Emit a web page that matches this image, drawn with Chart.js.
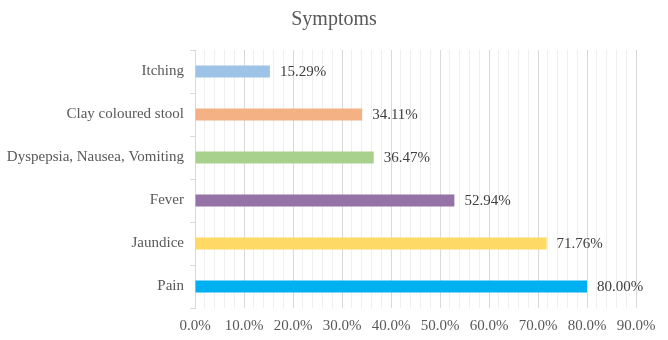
<!DOCTYPE html>
<html>
<head>
<meta charset="utf-8">
<script src="https://cdn.jsdelivr.net/npm/chart.js@4"></script>
<style>
  html, body { margin: 0; padding: 0; background: #fff; }
  #wrap { width: 668px; height: 340px; }
</style>
</head>
<body>
<div id="wrap"><canvas id="myChart"></canvas></div>
<script>
// symptoms, top row first
const symptoms = ["Itching", "Clay coloured stool", "Dyspepsia, Nausea, Vomiting", "Fever", "Jaundice", "Pain"];
const percentages = [15.29, 34.11, 36.47, 52.94, 71.76, 80.00];
const barColors = ["#9dc3e6", "#f4b183", "#a9d18e", "#9673a6", "#ffd966", "#00b0f0"];
const axisMax = 90;

const serif = "'Liberation Serif', 'Times New Roman', serif";

// value labels at the end of each bar
const barLabels = {
  id: "barLabels",
  afterDatasetsDraw(chart) {
    const ctx = chart.ctx;
    const meta = chart.getDatasetMeta(0);
    ctx.save();
    ctx.font = "15px " + serif;
    ctx.fillStyle = "#404040";
    ctx.textAlign = "left";
    ctx.textBaseline = "middle";
    meta.data.forEach((bar, i) => {
      ctx.fillText(percentages[i].toFixed(2) + "%", bar.x + 10, bar.y + 1);
    });
    ctx.restore();
  }
};

new Chart(document.getElementById("myChart").getContext("2d"), {
  type: "bar",
  data: {
    labels: symptoms,
    datasets: [{
      data: percentages,
      backgroundColor: barColors,
      borderWidth: 0,
      barPercentage: 0.9,
      categoryPercentage: 0.31
    }]
  },
  options: {
    indexAxis: "y",
    responsive: true,
    maintainAspectRatio: false,
    animation: false,
    layout: { padding: { left: 2, right: 2, top: 8, bottom: 0 } },
    plugins: {
      legend: { display: false },
      tooltip: { enabled: false },
      title: {
        display: true,
        text: "Symptoms",
        color: "#595959",
        font: { family: serif, size: 20, weight: "normal" },
        padding: { top: 0, bottom: 18 }
      }
    },
    scales: {
      x: {
        min: 0,
        max: axisMax,
        border: { display: false },
        grid: {
          drawTicks: false,
          color: c => (c.tick && c.tick.value % 10 === 0) ? "#d9d9d9" : "#efefef",
          lineWidth: 1
        },
        ticks: {
          stepSize: 2,
          autoSkip: false,
          maxRotation: 0,
          padding: 9,
          color: "#595959",
          font: { family: serif, size: 15 },
          callback: v => v % 10 === 0 ? v.toFixed(1) + "%" : ""
        },
        afterFit: s => { s.height = 32; s.paddingRight = 32; }
      },
      y: {
        border: { display: true, color: "#d9d9d9" },
        grid: {
          drawOnChartArea: false,
          drawTicks: true,
          tickLength: 5,
          color: "#d9d9d9"
        },
        ticks: {
          padding: 6,
          color: "#595959",
          font: { family: serif, size: 15 }
        },
        afterFit: s => { s.width = 193; }
      }
    }
  },
  plugins: [barLabels]
});
</script>
</body>
</html>
